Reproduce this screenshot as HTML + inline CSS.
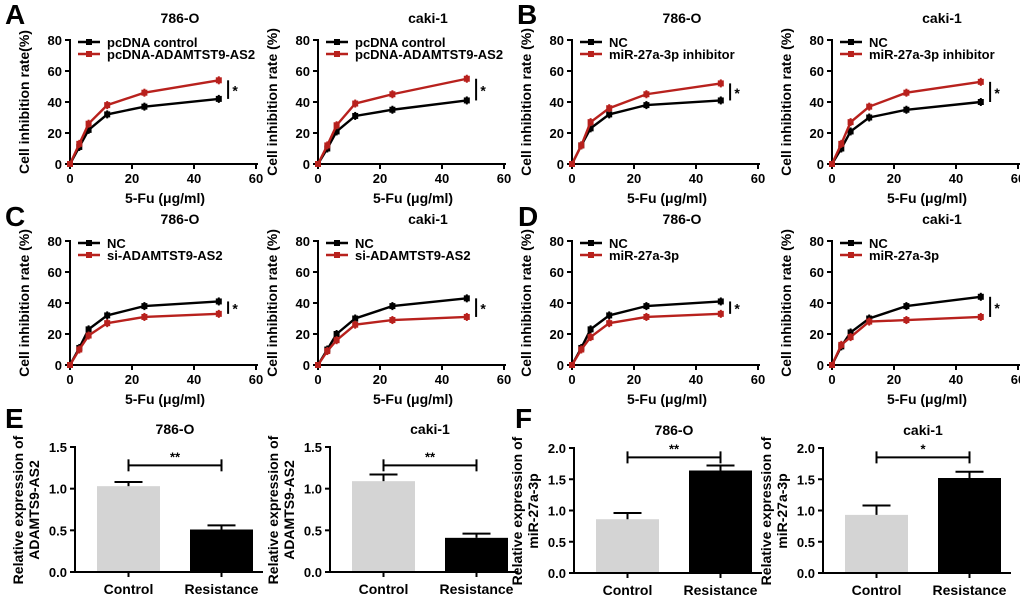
<!DOCTYPE html>
<html><head><meta charset="utf-8"><style>
body{margin:0;background:#fff}
svg{display:block;font-family:"Liberation Sans",Arial,sans-serif;font-weight:bold}
</style></head><body>
<svg id="fig" width="1020" height="599" viewBox="0 0 1020 599"></svg>
<script>
const doses=[0,3,6,12,24,48];
const xTicks=[0,20,40,60];
const yTicks=[0,20,40,60,80];
const a1Black=[0,11,22,32,37,42], a1Red=[0,13,26,38,46,54];
const a2Black=[0,10,21,31,35,41], a2Red=[0,12,25,39,45,55];
const b1Black=[0,12,23,32,38,41], b1Red=[0,12,27,36,45,52];
const b2Black=[0,10,21,30,35,40], b2Red=[0,13,27,37,46,53];
const c1Black=[0,11,23,32,38,41], c1Red=[0,10,19,27,31,33];
const c2Black=[0,10,20,30,38,43], c2Red=[0,9,16,26,29,31];
const d1Black=[0,11,23,32,38,41], d1Red=[0,10,18,27,31,33];
const d2Black=[0,12,21,30,38,44], d2Red=[0,13,18,28,29,31];
const barCats=['Control','Resistance'];
const e1Vals=[1.03,0.51], e1Err=[0.05,0.05];
const e2Vals=[1.09,0.41], e2Err=[0.08,0.05];
const f1Vals=[0.86,1.64], f1Err=[0.1,0.08];
const f2Vals=[0.93,1.52], f2Err=[0.15,0.1];
const eTicks=[0,0.5,1.0,1.5], fTicks=[0,0.5,1.0,1.5,2.0];

const svg=document.getElementById('fig');
const NS='http://www.w3.org/2000/svg';
function mk(tag,at,parent){const e=document.createElementNS(NS,tag);for(const k in at)e.setAttribute(k,at[k]);(parent||svg).appendChild(e);return e;}
function txt(x,y,s,size,anchor,parent,rot){const t=mk('text',{x:x,y:y,'font-size':size,'text-anchor':anchor||'middle'},parent);if(rot)t.setAttribute('transform','rotate(-90 '+x+' '+y+')');t.textContent=s;return t;}

function linePanel(ax,y0,title,ylab,leg1,leg2,blk,red,name){
  const g=mk('g',{});
  
  
  const sx=v=>ax+v*3.1, sy=v=>y0-v*1.55;
  mk('line',{x1:ax,y1:sy(80)-1,x2:ax,y2:y0,stroke:'#000','stroke-width':2},g);
  mk('line',{x1:ax,y1:y0,x2:sx(60)+2,y2:y0,stroke:'#000','stroke-width':2},g);
  xTicks.forEach(t=>{mk('line',{x1:sx(t),y1:y0,x2:sx(t),y2:y0+5,stroke:'#000','stroke-width':2},g);txt(sx(t),y0+19,String(t),13,'middle',g);});
  yTicks.forEach(t=>{mk('line',{x1:ax-5,y1:sy(t),x2:ax,y2:sy(t),stroke:'#000','stroke-width':2},g);txt(ax-8,sy(t)+5,String(t),13,'end',g);});
  txt(ax+95,y0+39,'5-Fu (μg/ml)',14,'middle',g);
  txt(ax+110,y0-141,title,14,'middle',g);
  txt(ax-41,y0-62,ylab,14,'middle',g,true);
  [[blk,'#000'],[red,'#b8211d']].forEach(([d,c],i)=>{
    const s=mk('polyline',{points:d.map((v,j)=>sx(doses[j])+','+sy(v)).join(' '),fill:'none',stroke:c,'stroke-width':2.4},g);
    
    
    d.forEach((v,j)=>{const m=mk('rect',{x:sx(doses[j])-3,y:sy(v)-3,width:6,height:6,fill:c},g);
      
      
      if(j>0)mk('line',{x1:sx(doses[j]),y1:sy(v)-4,x2:sx(doses[j]),y2:sy(v)+4,stroke:c,'stroke-width':2},g);});
  });
  const lx=sx(51);
  mk('line',{x1:lx,y1:sy(red[5]),x2:lx,y2:sy(blk[5]),stroke:'#000','stroke-width':2},g);
  txt(lx+7,(sy(red[5])+sy(blk[5]))/2+6,'*',14,'middle',g);
  [[leg1,'#000'],[leg2,'#b8211d']].forEach(([s,c],i)=>{
    const yy=y0-122+i*12;
    mk('line',{x1:ax+8,y1:yy,x2:ax+30,y2:yy,stroke:c,'stroke-width':2.4},g);
    mk('rect',{x:ax+16,y:yy-3,width:6,height:6,fill:c},g);
    const t=txt(ax+37,yy+5,s,13,'start',g);t.setAttribute('fill','#000');
    
    
  });
}
function barPanel(ax,y0,maxv,ticks,title,ylab1,ylab2,vals,errs,sig,sigY,name){
  const g=mk('g',{});
  
  
  const sy=v=>y0-v*(125/maxv);
  const fills=['#d4d4d4','#000'];
  vals.forEach((v,i)=>{const bx=ax+22+i*93;
    const r=mk('rect',{x:bx,y:sy(v),width:63,height:y0-sy(v),fill:fills[i]},g);
    
    
    const cx=bx+31.5;
    mk('line',{x1:cx,y1:sy(v),x2:cx,y2:sy(v+errs[i]),stroke:'#000','stroke-width':2},g);
    mk('line',{x1:cx-14,y1:sy(v+errs[i]),x2:cx+14,y2:sy(v+errs[i]),stroke:'#000','stroke-width':2},g);
    mk('line',{x1:cx,y1:y0,x2:cx,y2:y0+5,stroke:'#000','stroke-width':2},g);
    txt(cx,y0+22,barCats[i],14,'middle',g);
  });
  mk('line',{x1:ax,y1:sy(maxv)-1,x2:ax,y2:y0,stroke:'#000','stroke-width':2},g);
  mk('line',{x1:ax,y1:y0,x2:ax+188,y2:y0,stroke:'#000','stroke-width':2},g);
  ticks.forEach(t=>{mk('line',{x1:ax-5,y1:sy(t),x2:ax,y2:sy(t),stroke:'#000','stroke-width':2},g);txt(ax-8,sy(t)+5,t.toFixed(1),13,'end',g);});
  const c1=ax+53.5,c2=ax+146.5,by=sy(sigY);
  mk('line',{x1:c1,y1:by,x2:c2,y2:by,stroke:'#000','stroke-width':2},g);
  mk('line',{x1:c1,y1:by-6,x2:c1,y2:by+6,stroke:'#000','stroke-width':2},g);
  mk('line',{x1:c2,y1:by-6,x2:c2,y2:by+6,stroke:'#000','stroke-width':2},g);
  txt(ax+100,by-4,sig,13,'middle',g);
  txt(ax+100,y0-138,title,14,'middle',g);
  txt(ax-52,y0-62,ylab1,14,'middle',g,true);
  txt(ax-36,y0-62,ylab2,14,'middle',g,true);
}
[['A',5,24],['B',517,24],['C',5,226],['D',518,226],['E',5,428],['F',515,428]].forEach(([s,x,y])=>{
  const t=txt(x,y,s,28,'start');});
linePanel(70,164,'786-O','Cell inhibition rate(%)','pcDNA control','pcDNA-ADAMTST9-AS2',a1Black,a1Red,'panel-a-786o');
linePanel(318,164,'caki-1','Cell inhibition rate (%)','pcDNA control','pcDNA-ADAMTST9-AS2',a2Black,a2Red,'panel-a-caki1');
linePanel(572,164,'786-O','Cell inhibition rate (%)','NC','miR-27a-3p inhibitor',b1Black,b1Red,'panel-b-786o');
linePanel(832,164,'caki-1','Cell inhibition rate (%)','NC','miR-27a-3p inhibitor',b2Black,b2Red,'panel-b-caki1');
linePanel(70,365,'786-O','Cell inhibition rate (%)','NC','si-ADAMTST9-AS2',c1Black,c1Red,'panel-c-786o');
linePanel(318,365,'caki-1','Cell inhibition rate (%)','NC','si-ADAMTST9-AS2',c2Black,c2Red,'panel-c-caki1');
linePanel(572,365,'786-O','Cell inhibition rate (%)','NC','miR-27a-3p',d1Black,d1Red,'panel-d-786o');
linePanel(832,365,'caki-1','Cell inhibition rate (%)','NC','miR-27a-3p',d2Black,d2Red,'panel-d-caki1');
barPanel(75,572,1.5,eTicks,'786-O','Relative expression of','ADAMTS9-AS2',e1Vals,e1Err,'**',1.28,'panel-e-786o');
barPanel(330,572,1.5,eTicks,'caki-1','Relative expression of','ADAMTS9-AS2',e2Vals,e2Err,'**',1.28,'panel-e-caki1');
barPanel(574,573,2.0,fTicks,'786-O','Relative expression of','miR-27a-3p',f1Vals,f1Err,'**',1.85,'panel-f-786o');
barPanel(823,573,2.0,fTicks,'caki-1','Relative expression of','miR-27a-3p',f2Vals,f2Err,'*',1.85,'panel-f-caki1');
</script>
</body></html>
